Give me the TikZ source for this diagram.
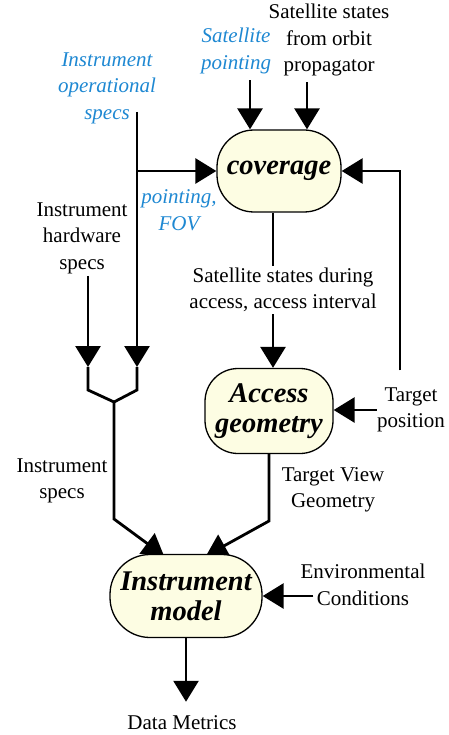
\documentclass[tikz,border=0pt]{standalone}
\usepackage{fontspec}
\setmainfont{Liberation Serif}
\usetikzlibrary{arrows.meta,calc}
\pgfdeclarelayer{background}
\pgfsetlayers{background,main}
\definecolor{boxfill}{RGB}{253,253,227}
\definecolor{specblue}{RGB}{30,136,210}
\tikzset{
  box/.style={draw, line width=1.3pt, fill=boxfill, rounded corners=37pt,
    align=center, inner sep=0pt, font=\fontsize{28.5}{30}\selectfont\bfseries\itshape},
  lbl/.style={align=center, inner sep=0pt, font=\fontsize{21}{26.5}\selectfont},
  bluelbl/.style={lbl, text=specblue, font=\fontsize{21}{26.5}\selectfont\itshape},
  flow/.style={line width=2.8pt, -{Triangle[length=21pt,width=25pt]}},
  wire/.style={line width=2.8pt},
}
\begin{document}
\begin{tikzpicture}[x=1pt,y=-1pt]
\useasboundingbox (0,0) rectangle (448,735);

% processing blocks
\node[box, minimum width=124pt, minimum height=82pt] (cov) at (279,171) {coverage};
\node[box, minimum width=128pt, minimum height=85pt, rounded corners=33pt] (ag) at (269,411) {Access\\geometry};
\node[box, minimum width=152pt, minimum height=83pt, rounded corners=40pt] (im) at (186,596) {Instrument\\model};

% inputs and outputs
\node[lbl] (ss) at (329,40) {Satellite states\\from orbit\\propagator};
\node[bluelbl] (sp) at (236,51) {Satellite\\pointing};
\node[bluelbl] (ops) at (107,88) {Instrument\\operational\\specs};
\node[bluelbl] (pf) at (179,210) {pointing,\\FOV};
\node[lbl] (hw) at (82,238) {Instrument\\hardware\\specs};
\node[lbl, fill=white, inner sep=2pt] (sad) at (283,290) {Satellite states during\\access, access interval};
\node[lbl] (tp) at (411,410) {Target\\position};
\node[lbl] (is) at (62,481) {Instrument\\specs};
\node[lbl] (tvg) at (333,490) {Target View\\Geometry};
\node[lbl] (env) at (363,585) {Environmental\\Conditions};
\node[lbl] (dm) at (182,723) {Data Metrics};

\begin{pgfonlayer}{background}
  % routing points
  \coordinate (opstop) at (137,112);
  \coordinate (jr) at (137,367);
  \coordinate (jl) at (88,367);
  \coordinate (merge) at (114,402);
  \coordinate (isbend) at (114,519);
  \coordinate (tvbend) at (269,521);

  \draw[flow] ([xshift=14pt,yshift=-6.5pt]sp.south) -- ([xshift=-29pt]cov.north);
  \draw[flow] ([xshift=-22pt,yshift=-6pt]ss.south) -- ([xshift=28pt]cov.north);

  \draw[flow] (opstop) -- (jr);
  \draw[flow] (opstop |- cov.west) -- (cov.west);
  \draw[flow] ([xshift=6pt,yshift=-2pt]hw.south) -- (jl);
  \draw[wire] (jl) -- ++(0,23) -- (merge);
  \draw[wire] (jr) -- ++(0,23) -- (merge);
  \draw[flow] (merge) -- (isbend) -- ([xshift=-22pt,yshift=-2pt]im.north);

  \draw[flow] ([xshift=-6pt]cov.south) -- ([xshift=4pt]ag.north);
  \draw[flow] (tp.west) -- (tp.west -| ag.east);
  \draw[flow] ([xshift=-11pt,yshift=17pt]tp.north) |- (cov.east);

  \draw[flow] (ag.south) -- (tvbend) -- ([xshift=20pt,yshift=-2pt]im.north);
  \draw[flow] ($(env.west |- im.east)+(13pt,0)$) -- (im.east);
  \draw[flow] (im.south) -- ([xshift=4pt,yshift=14pt]dm.north);
\end{pgfonlayer}
\end{tikzpicture}
\end{document}
